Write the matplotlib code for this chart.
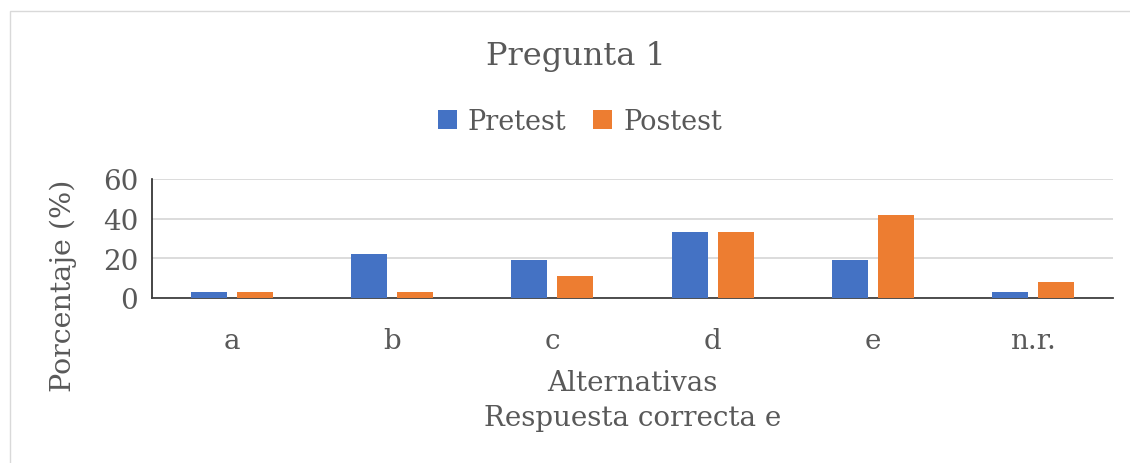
import numpy as np
import matplotlib.pyplot as plt
from matplotlib.patches import Rectangle

categorias = ['a', 'b', 'c', 'd', 'e', 'n.r.']
pretest = [2.8, 22.2, 19.4, 33.3, 19.4, 2.8]
postest = [2.8, 2.8, 11.1, 33.3, 41.7, 8.3]
yticks = [0, 20, 40, 60]

plt.rcParams['font.family'] = ['DejaVu Serif']
gris = '#595959'

fig = plt.figure(figsize=(11.3, 4.64), dpi=100)
# chart border
fig.patches.append(Rectangle((10/1130, -0.1), 1.1, 1.1 - 12/464, transform=fig.transFigure,
                             fill=False, edgecolor='#d9d9d9', lw=1))

ax = fig.add_axes([152/1130, 1 - 299/464, (1113-152)/1130, (299-180)/464])
x = np.arange(len(categorias))
w = 0.225
ax.bar(x - 0.144, pretest, w, color='#4472c4', label='Pretest', zorder=3)
ax.bar(x + 0.144, postest, w, color='#ed7d31', label='Postest', zorder=3)

ax.set_xlim(-0.5, len(categorias) - 0.5)
ax.set_ylim(0, 60)
ax.set_yticks(yticks)
ax.set_xticks(x)
ax.set_xticklabels(categorias)
ax.yaxis.grid(True, color='#d9d9d9', lw=1.3, zorder=0)
ax.tick_params(axis='both', length=0, labelsize=20, colors=gris, pad=10)
ax.tick_params(axis='x', pad=21)
for s in ['top', 'right']:
    ax.spines[s].set_visible(False)
ax.spines['left'].set_color('#262626')
ax.spines['bottom'].set_color('#404040')
ax.spines['left'].set_linewidth(1.2)
ax.spines['bottom'].set_linewidth(1.3)

ax.set_ylabel('Porcentaje (%)', fontsize=20.5, color=gris, va='center')
ax.yaxis.set_label_coords(-0.092, 0.11)
ax.set_xlabel('Alternativas\nRespuesta correcta e', fontsize=20, color=gris,
              linespacing=1.38, va='top')
ax.xaxis.set_label_coords(0.5, -0.595)

fig.text(576/1130, 1 - 57/464, 'Pregunta 1', ha='center', va='center', fontsize=23, color=gris)
fig.legend(loc='center', bbox_to_anchor=(580/1130, 1 - 122/464), ncol=2, frameon=False,
           fontsize=19.5, labelcolor=gris, handlelength=0.7, handleheight=0.7,
           columnspacing=1.0, handletextpad=0.4)

fig.savefig('out.png', dpi=100)
